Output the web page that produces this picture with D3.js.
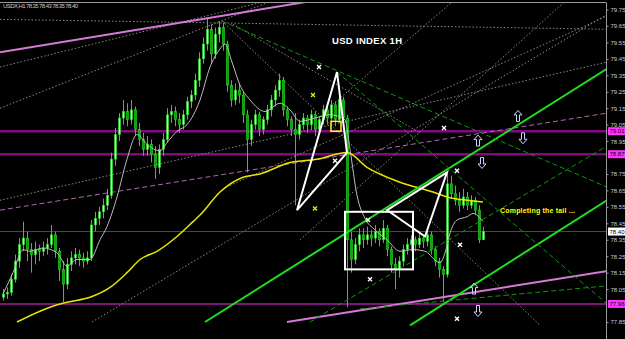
<!DOCTYPE html>
<html><head><meta charset="utf-8">
<script src="https://cdn.jsdelivr.net/npm/d3@7"></script>
<style>html,body{margin:0;padding:0;background:#000;overflow:hidden}</style>
</head><body><svg id="c" width="625" height="339"></svg>
<script>
// ---------- DATA ----------
const opens=[78.00,78.02,78.03,78.11,78.22,78.32,78.36,78.29,78.26,78.29,
78.28,78.30,78.32,78.38,78.28,78.17,78.08,78.20,78.24,78.26,
78.24,78.22,78.24,78.44,78.48,78.52,78.56,78.62,78.84,78.99,
79.09,79.13,79.08,79.14,79.02,78.96,78.90,78.93,78.87,78.79,
78.90,78.96,79.11,79.13,79.08,79.05,79.11,79.19,79.23,79.32,
79.45,79.54,79.63,79.48,79.60,79.64,79.54,79.29,79.20,79.26,
79.23,79.11,78.96,79.05,79.11,79.02,79.08,79.14,79.20,79.26,
79.32,79.14,79.08,79.02,78.99,79.05,79.09,79.05,79.11,79.02,
79.08,79.14,79.09,79.17,79.08,79.20,79.09,78.35,78.23,78.32,
78.38,78.35,78.38,78.36,78.40,78.35,78.42,78.29,78.20,78.17,
78.22,78.29,78.32,78.35,78.32,78.36,78.34,78.38,78.29,78.22,
78.17,78.14,78.69,78.63,78.59,78.56,78.61,78.56,78.59,78.53,
78.35];
const highs=[78.05,78.06,78.14,78.26,78.36,78.46,78.40,78.33,78.34,78.32,
78.34,78.36,78.44,78.40,78.30,78.22,78.24,78.28,78.30,78.29,
78.27,78.28,78.47,78.52,78.55,78.60,78.66,78.88,79.03,79.12,
79.20,79.18,79.20,79.16,79.06,79.00,78.98,78.96,78.92,78.93,
79.00,79.15,79.17,79.16,79.12,79.14,79.22,79.26,79.36,79.49,
79.58,79.70,79.66,79.64,79.68,79.67,79.56,79.32,79.30,79.30,
79.25,79.14,79.08,79.14,79.13,79.10,79.17,79.23,79.29,79.36,
79.34,79.16,79.10,79.12,79.08,79.12,79.11,79.14,79.13,79.10,
79.17,79.16,79.20,79.19,79.24,79.22,79.11,78.40,78.36,78.42,
78.42,78.43,78.41,78.44,78.42,78.47,78.44,78.31,78.24,78.25,
78.32,78.36,78.38,78.37,78.40,78.38,78.42,78.40,78.31,78.24,
78.19,78.76,78.74,78.68,78.64,78.66,78.64,78.62,78.61,78.56,
78.43];
const lows=[77.98,77.99,78.01,78.09,78.18,78.28,78.22,78.15,78.20,78.22,
78.25,78.26,78.30,78.24,78.10,77.97,78.05,78.16,78.20,78.19,
78.18,78.20,78.22,78.40,78.44,78.48,78.53,78.60,78.80,78.95,
79.05,79.04,79.05,78.98,78.92,78.86,78.86,78.82,78.72,78.75,
78.86,78.94,79.06,79.04,79.00,79.02,79.08,79.15,79.20,79.28,
79.42,79.50,79.42,79.45,79.55,79.50,79.25,79.16,79.17,79.18,
79.06,78.76,78.92,79.02,78.98,78.99,79.05,79.10,79.16,79.22,
79.10,79.04,78.98,78.56,78.96,79.02,79.00,79.02,78.98,78.99,
79.05,79.05,79.06,79.04,79.06,79.06,77.94,78.15,78.20,78.28,
78.30,78.32,78.31,78.33,78.31,78.33,78.25,78.15,78.05,78.12,
78.19,78.26,78.28,78.28,78.30,78.30,78.31,78.26,78.19,78.12,
77.97,78.12,78.60,78.56,78.52,78.54,78.53,78.54,78.50,78.33,
78.35];
const closes=[78.02,78.03,78.11,78.22,78.32,78.36,78.29,78.26,78.29,78.28,
78.30,78.32,78.38,78.28,78.17,78.08,78.20,78.24,78.26,78.24,
78.22,78.24,78.44,78.48,78.52,78.56,78.62,78.84,78.99,79.09,
79.13,79.08,79.14,79.02,78.96,78.90,78.93,78.87,78.79,78.90,
78.96,79.11,79.13,79.08,79.05,79.11,79.19,79.23,79.32,79.45,
79.54,79.63,79.48,79.60,79.64,79.54,79.29,79.20,79.26,79.23,
79.11,78.96,79.05,79.11,79.02,79.08,79.14,79.20,79.26,79.32,
79.14,79.08,79.02,78.99,79.05,79.09,79.05,79.11,79.02,79.08,
79.14,79.09,79.17,79.08,79.20,79.09,78.35,78.23,78.32,78.38,
78.35,78.38,78.36,78.40,78.35,78.42,78.29,78.20,78.17,78.22,
78.29,78.32,78.35,78.32,78.36,78.34,78.38,78.29,78.22,78.17,
78.14,78.69,78.63,78.59,78.56,78.61,78.56,78.59,78.53,78.35,
78.40];

const fastMaBars=[0,2.5,5,6.75,10,13.5,16,18.5,21.75,24.25,26,28.5,31,33.5,36,39.25,41,43.5,46,49.25,51.75,54.25,55.5,57.25,59.25,61.75,65.5,69.25,71.75,74.25,78,81.75,85.5,86.75,88.5,90.5,93,96,99.25,102.5,105.5,109.25,110.5,111.75,113.5,116,117.5,120];
const fastMaValues=[78.02,78.15,78.29,78.28,78.30,78.27,78.19,78.23,78.23,78.35,78.43,78.61,78.84,78.99,78.93,78.89,78.94,79.01,79.05,79.20,79.40,79.51,79.54,79.43,79.29,79.20,79.13,79.18,79.14,79.07,79.09,79.11,79.08,78.90,78.62,78.48,78.41,78.35,78.28,78.29,78.28,78.21,78.27,78.39,78.47,78.49,78.51,78.46];
const slowMaBars=[3.5,11.75,16,21.75,26.75,31,34.25,38.5,43.5,47.5,49.25,54.25,60,64.25,71.75,78.5,86,91,99.25,107.5,111,116,120];
const slowMaValues=[77.85,77.94,77.97,78.00,78.06,78.15,78.23,78.28,78.37,78.46,78.50,78.64,78.73,78.75,78.82,78.84,78.88,78.79,78.70,78.64,78.61,78.59,78.58];

const tickLabels=["79.75","79.65","79.55","79.45","79.35","79.25","79.15","79.05","78.95","78.75","78.65","78.55","78.45","78.35","78.25","78.15","78.05","77.85"];
const levelLines=[79.01,78.87,77.96];
const lastPrice=78.40;

// trend lines: [bar1, price1, bar2, price2]
const dottedLines=[[-0.75,79.69,151,79.63],[-0.75,79.40,67.25,79.81],[-0.75,79.15,68,79.81],[-0.75,78.59,151,79.43],
 [22.25,77.85,151,79.72],[56.75,78.68,151,79.71],[74.25,78.35,141,79.81],[81.75,79.16,113,79.81],
 [54.75,79.68,134.25,77.83],[57.5,79.66,104.25,79.00]];
const violetSolidLines=[[-0.75,79.49,79.25,79.81],[71,77.85,151,78.16]];
const violetDashedLines=[[-0.75,78.53,151,79.12]];
const greenSolidLines=[[50.5,77.85,151,79.39],[101.75,77.83,151,78.59]];
const greenDashedLines=[[54.75,79.68,151,78.67],[83.5,79.37,151,77.96],[76.75,77.85,151,78.92],[89.25,77.93,151,78.07]];
const triangleA=[[73.5,78.53],[83.5,79.37],[86,78.88]];
const triangleB=[[96,78.53],[111,78.76],[105.5,78.37]];
const whiteBox=[85.5,78.52,102.5,78.17];
const yellowBox=[82,79.07,84.5,79.01];
const whiteCrosses=[[79,79.40],[83,78.83],[91.25,78.47],[110.25,79.03],[113.5,78.77],[91.75,78.11],[114.25,78.32],[113.5,77.87]];
const yellowCrosses=[[77.5,79.23],[78,78.54]];
const upArrows=[[128.75,79.10],[118.75,78.95],[117.75,78.05]];
const downArrows=[[130,78.97],[119.75,78.82],[118.75,77.92]];

// ---------- CHART ----------
const svg=d3.select('#c');
const W=625,H=339,axisX=606;
const x=d3.scaleLinear().domain([0,120]).range([3,483]);
const y=d3.scaleLinear().domain([79.75,77.85]).range([9.5,322]);

svg.append('rect').attr('width',W).attr('height',H).attr('fill','#000');
svg.append('defs').append('clipPath').attr('id','clip').append('rect').attr('x',0).attr('y',3).attr('width',axisX).attr('height',H-3);
const plot=svg.append('g').attr('clip-path','url(#clip)');

function segs(g,data,stroke,width,dash){
  g.selectAll(null).data(data).enter().append('line')
   .attr('x1',d=>x(d[0])).attr('y1',d=>y(d[1])).attr('x2',d=>x(d[2])).attr('y2',d=>y(d[3]))
   .attr('stroke',stroke).attr('stroke-width',width).attr('stroke-dasharray',dash||null);
}

// level lines
plot.selectAll('.lvl').data(levelLines).enter().append('line')
 .attr('x1',0).attr('x2',axisX).attr('y1',d=>y(d)).attr('y2',d=>y(d))
 .attr('stroke',(d,i)=>i<2?'#820882':'#a41aa4').attr('stroke-width',(d,i)=>i<2?2.5:1.5);
plot.append('line').attr('x1',0).attr('x2',axisX).attr('y1',y(lastPrice)).attr('y2',y(lastPrice)).attr('stroke','#4a4a4a').attr('stroke-width',1);

segs(plot,dottedLines,'#8a8a8a',1,'1.5,2');
segs(plot,violetDashedLines,'#b068b0',1,'5,3');

// candles
const idx=d3.range(opens.length);
plot.selectAll('.wick').data(idx).enter().append('line')
 .attr('x1',i=>x(i)+0.5).attr('x2',i=>x(i)+0.5).attr('y1',i=>y(highs[i])).attr('y2',i=>y(lows[i]))
 .attr('stroke','#1ed81e').attr('stroke-width',1);
plot.selectAll('.body').data(idx).enter().append('rect')
 .attr('x',i=>x(i)-0.5).attr('width',2)
 .attr('y',i=>y(Math.max(opens[i],closes[i])))
 .attr('height',i=>Math.max(1,Math.abs(y(opens[i])-y(closes[i]))))
 .attr('fill',i=>closes[i]>=opens[i]?'#aaffaa':'#10a010')
 .attr('stroke','#20e020').attr('stroke-width',0.6);

// moving averages
const fastPts=fastMaBars.map((b,i)=>[b,fastMaValues[i]]);
const slowPts=slowMaBars.map((b,i)=>[b,slowMaValues[i]]);
const ln=d3.line().x(d=>x(d[0])).y(d=>y(d[1])).curve(d3.curveMonotoneX);
plot.append('path').attr('d',ln(slowPts)).attr('fill','none').attr('stroke','#e6e600').attr('stroke-width',1.5);
plot.append('path').attr('d',ln(fastPts)).attr('fill','none').attr('stroke','#bdbdbd').attr('stroke-width',1);

segs(plot,violetSolidLines,'#d77ad7',2);
segs(plot,greenSolidLines,'#1ee01e',2);
segs(plot,greenDashedLines,'#0a9a0a',1,'5,3');

// white triangles & boxes
const tri=d3.line().x(d=>x(d[0])).y(d=>y(d[1]));
[triangleA,triangleB].forEach(t=>{
  plot.append('path').attr('d',tri(t)+'Z').attr('fill','none').attr('stroke','#fff').attr('stroke-width',2);
});
plot.append('rect').attr('x',x(whiteBox[0])).attr('y',y(whiteBox[1])).attr('width',x(whiteBox[2])-x(whiteBox[0])).attr('height',y(whiteBox[3])-y(whiteBox[1]))
 .attr('fill','none').attr('stroke','#fff').attr('stroke-width',2);
plot.append('rect').attr('x',x(yellowBox[0])).attr('y',y(yellowBox[1])).attr('width',x(yellowBox[2])-x(yellowBox[0])).attr('height',y(yellowBox[3])-y(yellowBox[1]))
 .attr('fill','none').attr('stroke','#ffff00').attr('stroke-width',1.5);

// crosses
function crosses(data,color){
  const g=plot.selectAll(null).data(data).enter().append('g').attr('transform',d=>`translate(${x(d[0])},${y(d[1])})`);
  g.append('path').attr('d','M-2,-2L2,2M-2,2L2,-2').attr('stroke',color).attr('stroke-width',1.4);
}
crosses(whiteCrosses,'#ffffff');
crosses(yellowCrosses,'#e6e600');

// arrows
const upPath='M0,-6L4,-1.5L1.5,-1.5L1.5,5L-1.5,5L-1.5,-1.5L-4,-1.5Z';
plot.selectAll(null).data(upArrows).enter().append('path').attr('d',upPath)
 .attr('transform',d=>`translate(${x(d[0])},${y(d[1])})`).attr('fill','none').attr('stroke','#c8d4ff').attr('stroke-width',1);
plot.selectAll(null).data(downArrows).enter().append('path').attr('d',upPath)
 .attr('transform',d=>`translate(${x(d[0])},${y(d[1])}) scale(1,-1)`).attr('fill','none').attr('stroke','#c8d4ff').attr('stroke-width',1);

// texts
plot.append('text').attr('x',367).attr('y',44).attr('text-anchor','middle').attr('fill','#fff')
 .attr('font-family','Liberation Sans, Arial').attr('font-weight','bold').attr('font-size',9.5).attr('textLength',70).text('USD INDEX 1H');
plot.append('text').attr('x',500).attr('y',213).attr('fill','#ffff00')
 .attr('font-family','Liberation Sans, Arial').attr('font-weight','bold').attr('font-size',7).attr('textLength',75).text('Completing the tail ...');
svg.append('text').attr('x',3).attr('y',8).attr('fill','#c8c8c8')
 .attr('font-family','Liberation Sans, Arial').attr('font-size',6).attr('textLength',75).text('USDX,H1  78.35 78.43 78.35 78.40');

// frame & axis
svg.append('line').attr('x1',0).attr('x2',axisX).attr('y1',2.5).attr('y2',2.5).attr('stroke','#9a9a9a');
const axis=d3.axisRight(y).tickValues(tickLabels.map(Number)).tickFormat(d3.format('.2f')).tickSize(2).tickPadding(2);
const ag=svg.append('g').attr('transform',`translate(${axisX+0.5},0)`).call(axis);
ag.select('.domain').attr('stroke','#9a9a9a').attr('d',`M0,2.5V${H}`);
ag.selectAll('.tick line').attr('stroke','#9a9a9a');
ag.selectAll('.tick text').attr('fill','#c8c8c8').attr('font-size',6).attr('font-family','Liberation Sans, Arial');

// highlighted price labels
const hl=[[levelLines[0],'#ff33ff','#000'],[levelLines[1],'#ff33ff','#000'],[lastPrice,'#ffffff','#000'],[levelLines[2],'#ff33ff','#000']];
hl.forEach(([v,bg,fg])=>{
  svg.append('rect').attr('x',axisX+2).attr('y',y(v)-4).attr('width',17).attr('height',8).attr('fill',bg);
  svg.append('text').attr('x',axisX+3.5).attr('y',y(v)+2.2).attr('fill',fg).attr('font-size',6).attr('font-family','Liberation Sans, Arial').text(v.toFixed(2));
});
</script></body></html>
